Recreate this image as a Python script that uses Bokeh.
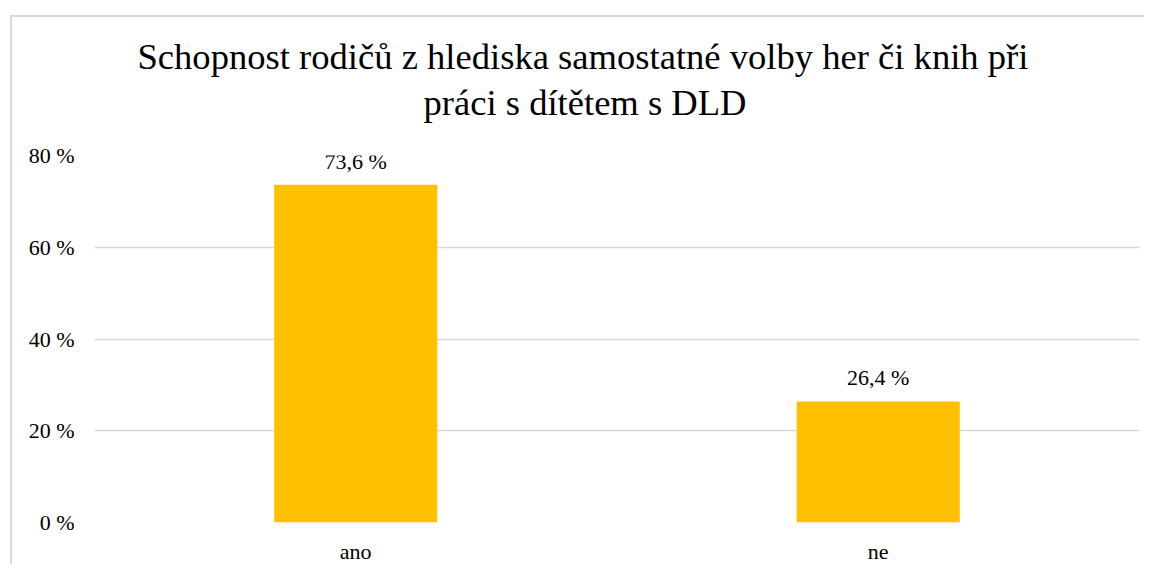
from bokeh.plotting import figure
from bokeh.models import FactorRange, Range1d, FixedTicker, Title, LabelSet, ColumnDataSource
from bokeh.embed import file_html
from bokeh.resources import INLINE

categories = ["ano", "ne"]
values = [73.6, 26.4]
labels = ["73,6 %", "26,4 %"]
y_ticks = [0, 20, 40, 60, 80]
y_tick_labels = ["0 %", "20 %", "40 %", "60 %", "80 %"]
title_lines = ["Schopnost rodičů z hlediska samostatné volby her či knih při",
               "práci s dítětem s DLD"]

FONT = "Liberation Serif"

src = ColumnDataSource(dict(cat=categories, val=values, lab=labels))

p = figure(x_range=FactorRange(*categories), y_range=Range1d(0, 80),
           width=1134, height=549, output_backend="svg", toolbar_location=None,
           min_border_left=82, min_border_right=7, min_border_top=138, min_border_bottom=41,
           margin=(15, 0, 0, 10),
           styles={"border-left": "2px solid #d9d9d9", "border-top": "2px solid #d9d9d9"})
p.title = None
p.outline_line_color = None

# spacer between plot area and title block
t0 = Title(text=" ", align="left", text_font=FONT, text_font_size="1px",
           text_color="#ffffff", standoff=29.6)
t2 = Title(text=title_lines[1], align="left", text_font=FONT, text_font_size="36.6px",
           text_font_style="normal", text_color="#000000", offset=329, standoff=0)
t1 = Title(text=title_lines[0], align="left", text_font=FONT, text_font_size="36.6px",
           text_font_style="normal", text_color="#000000", offset=43, standoff=5)
p.add_layout(t0, "above")
p.add_layout(t2, "above")
p.add_layout(t1, "above")

p.vbar(x="cat", top="val", width=0.312, color="#FFC000", line_color=None, source=src)
p.add_layout(LabelSet(x="cat", y="val", text="lab", source=src, text_align="center",
                      text_baseline="alphabetic", y_offset=16, text_font=FONT,
                      text_font_size="22px", text_color="#000000"))

p.xgrid.grid_line_color = None
p.ygrid.grid_line_color = "#d9d9d9"
p.ygrid.grid_line_width = 1.5
p.yaxis.ticker = FixedTicker(ticks=y_ticks)
p.yaxis.major_label_overrides = {t: l for t, l in zip(y_ticks, y_tick_labels)}

for ax in (p.xaxis[0], p.yaxis[0]):
    ax.axis_line_color = None
    ax.major_tick_line_color = None
    ax.minor_tick_line_color = None
    ax.major_tick_out = 0
    ax.major_tick_in = 0
    ax.major_label_text_font = FONT
    ax.major_label_text_font_size = "22px"
    ax.major_label_text_color = "#000000"
p.yaxis.major_label_standoff = 20
p.xaxis.major_label_standoff = 16

open("out.html", "w").write(file_html(p, INLINE))
